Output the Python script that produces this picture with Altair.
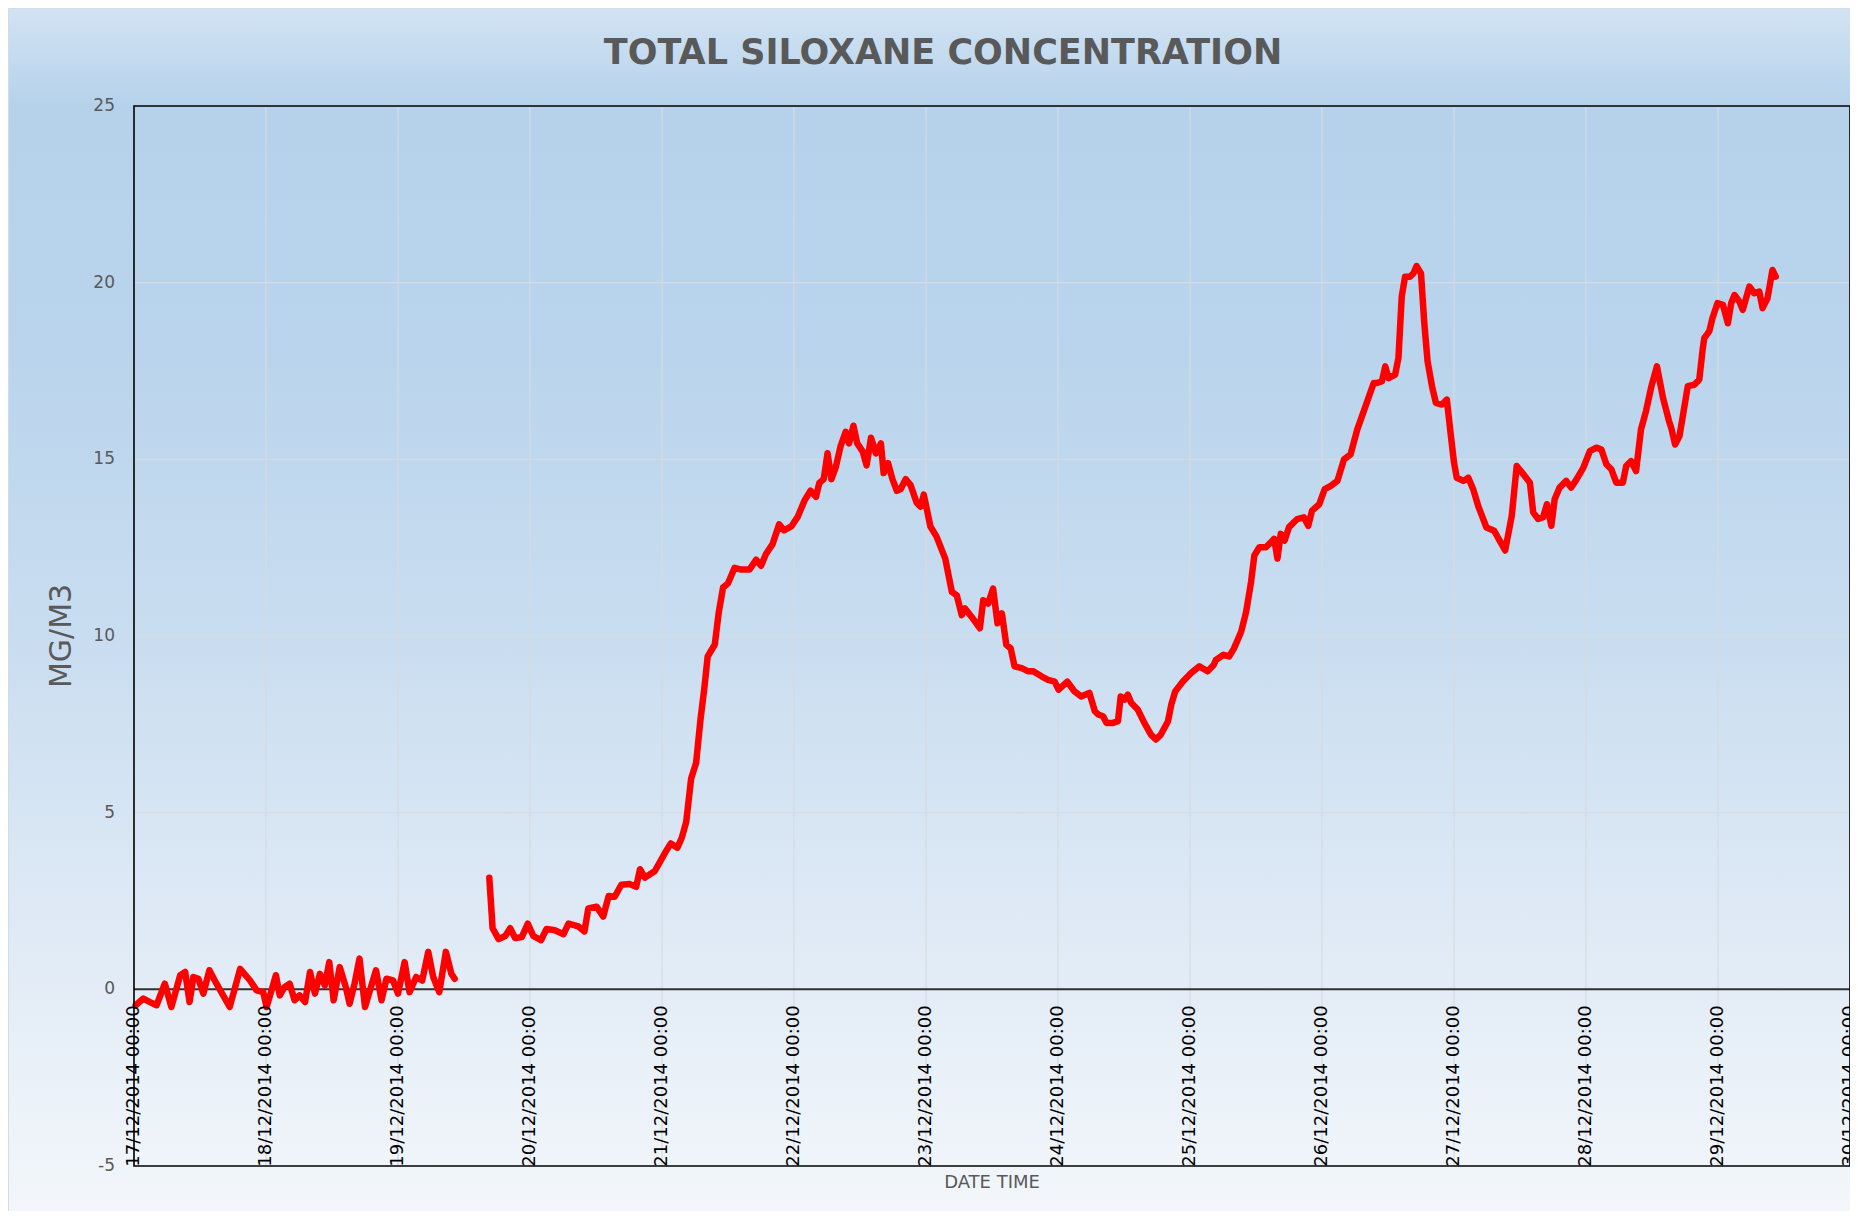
import altair as alt
import pandas as pd

# ---- data (hours since 17/12/2014 00:00, concentration mg/m3) ----
seg1_hours = [0.3, 1.7, 2.9, 4.1, 5.6, 6.8, 8.4, 9.3, 10.1, 10.8, 11.7, 12.6, 13.7, 15.0,
              17.4, 19.3, 21.1, 22.3, 23.5, 24.1, 25.0, 25.8, 26.5, 27.4, 28.3, 29.2, 30.1,
              31.1, 32.0, 32.9, 33.8, 34.7, 35.5, 36.3, 37.4, 38.5, 39.2, 40.1, 41.0, 42.0,
              42.9, 44.0, 45.0, 45.9, 47.1, 48.0, 49.2, 50.1, 51.3, 52.4, 53.5, 54.4, 55.5,
              56.7, 57.7, 58.3]
seg1_values = [-0.45, -0.26, -0.36, -0.45, 0.16, -0.50, 0.40, 0.49, -0.36, 0.35, 0.30, -0.12,
               0.54, 0.16, -0.50, 0.58, 0.25, -0.03, -0.08, -0.50, -0.03, 0.40, -0.17, 0.07,
               0.16, -0.31, -0.17, -0.36, 0.49, -0.12, 0.44, 0.11, 0.77, -0.31, 0.63, 0.07,
               -0.41, 0.16, 0.87, -0.50, -0.03, 0.54, -0.31, 0.30, 0.25, -0.12, 0.77, -0.08,
               0.35, 0.25, 1.06, 0.35, -0.08, 1.06, 0.44, 0.30]

seg2_hours = [64.6, 65.2, 66.3, 67.5, 68.4, 69.3, 70.5, 71.6, 72.6, 74.0, 75.0, 76.5, 78.1,
              79.0, 80.8, 81.9, 82.6, 84.1, 85.3, 86.3, 87.4, 88.6, 90.1, 91.3, 92.0, 92.9,
              94.7, 96.5, 97.6, 98.8, 99.6, 100.4, 101.3, 102.2, 103.0, 103.7, 104.3, 105.6,
              106.3, 107.1, 108.0, 109.2, 110.4, 111.9, 113.1, 114.0, 114.9, 116.1, 117.3,
              118.2, 119.5, 120.7, 121.9, 123.0, 124.0, 124.6, 125.4, 126.1, 126.8, 127.6,
              128.5, 129.4, 130.0, 130.8, 131.5, 132.5, 133.2, 134.0, 134.9, 135.8, 136.3,
              137.1, 137.9, 138.7, 139.4, 140.3, 141.2, 142.3, 143.0, 143.6, 144.8, 145.9,
              147.5, 148.7, 149.6, 150.5, 151.1, 152.3, 153.8, 154.4, 155.3, 156.2, 157.0,
              157.8, 158.6, 159.4, 160.1, 161.4, 162.6, 163.5, 165.0, 166.2, 167.4, 168.1,
              169.7, 171.0, 172.2, 173.7, 174.7, 175.3, 176.2, 176.8, 178.0, 178.9, 179.4,
              180.1, 180.7, 181.3, 182.5, 183.7, 184.9, 185.8, 186.7, 188.0, 188.6, 189.3,
              190.7, 192.2, 193.7, 195.2, 196.3, 196.7, 198.1, 199.1, 200.0, 201.3, 202.2,
              203.1, 203.7, 204.6, 205.8, 206.7, 207.3, 207.9, 208.5, 209.2, 210.0, 211.5,
              212.7, 213.5, 214.2, 215.5, 216.5, 217.6, 218.8, 220.0, 221.2, 222.4, 223.9,
              225.4, 226.0, 226.9, 227.5, 228.1, 229.3, 229.9, 230.5, 231.1, 232.0, 232.6,
              233.2, 234.0, 234.6, 235.2, 236.0, 236.7, 237.8, 238.7, 239.3, 240.0, 240.5,
              241.7, 242.6, 243.5, 244.4, 245.9, 247.3, 248.3, 249.3, 250.5, 251.4, 252.6,
              253.8, 254.4, 255.3, 256.2, 256.9, 257.7, 258.3, 259.2, 260.4, 261.3, 262.3,
              263.5, 264.7, 265.9, 266.8, 267.7, 268.6, 269.5, 270.7, 271.3, 272.2, 273.1,
              274.0, 274.9, 275.9, 276.9, 278.0, 279.1, 279.5, 280.2, 281.0, 281.9, 282.5,
              283.7, 284.6, 285.2, 285.5, 286.4, 287.0, 287.9, 288.9, 289.8, 290.4, 291.0,
              291.9, 292.5, 293.7, 294.6, 295.5, 296.1, 297.0, 297.9, 298.5]
seg2_values = [3.16, 1.73, 1.42, 1.51, 1.73, 1.45, 1.48, 1.86, 1.51, 1.39, 1.71, 1.67, 1.56,
               1.86, 1.78, 1.64, 2.29, 2.34, 2.06, 2.64, 2.62, 2.96, 2.98, 2.90, 3.40, 3.16,
               3.35, 3.85, 4.13, 4.01, 4.29, 4.74, 5.97, 6.41, 7.64, 8.53, 9.42, 9.76, 10.65,
               11.37, 11.49, 11.93, 11.88, 11.88, 12.16, 11.99, 12.32, 12.60, 13.16, 12.99,
               13.10, 13.38, 13.83, 14.11, 13.94, 14.33, 14.44, 15.17, 14.44, 14.78, 15.39,
               15.78, 15.45, 15.95, 15.45, 15.22, 14.83, 15.61, 15.17, 15.45, 14.61, 14.89,
               14.44, 14.11, 14.16, 14.44, 14.27, 13.77, 13.66, 14.00, 13.10, 12.82,
               12.19, 11.25, 11.15, 10.59, 10.78, 10.54, 10.22, 11.01, 10.92, 11.34, 10.36,
               10.64, 9.75, 9.65, 9.14, 9.09, 9.00, 9.00, 8.86, 8.76, 8.71, 8.48, 8.71, 8.43,
               8.29, 8.39, 7.87, 7.78, 7.73, 7.54, 7.54, 7.59, 8.29, 8.20, 8.34, 8.11, 7.92,
               7.54, 7.21, 7.07, 7.21, 7.59, 8.06, 8.43, 8.71, 8.95, 9.14, 9.00, 9.18, 9.32,
               9.47, 9.42, 9.65, 10.12, 10.68, 11.53, 12.28, 12.51, 12.51, 12.65, 12.75, 12.19,
               12.89, 12.70, 13.08, 13.31, 13.36, 13.12, 13.55, 13.73, 14.16, 14.25, 14.39,
               15.00, 15.14, 15.84, 16.50, 17.16, 17.16, 17.21, 17.63, 17.30, 17.40, 17.87,
               19.61, 20.17, 20.17, 20.26, 20.47, 20.26, 18.85, 17.77, 17.07, 16.60, 16.55,
               16.69, 15.85, 14.91, 14.48, 14.39, 14.48, 14.15, 13.68, 13.07, 12.98, 12.70,
               12.42, 13.40, 14.81, 14.58, 14.34, 13.50, 13.31, 13.36, 13.73, 13.12, 13.87,
               14.20, 14.39, 14.20, 14.44, 14.76, 15.23, 15.33, 15.28, 14.86, 14.72, 14.34,
               14.34, 14.81, 14.95, 14.67, 15.85, 16.36, 17.07, 17.63, 16.74, 16.08, 15.89,
               15.42, 15.66, 16.50, 17.07, 17.11, 17.26, 18.10, 18.43, 18.62, 19.00, 19.42,
               19.37, 18.85, 19.42, 19.65, 19.46, 19.23, 19.89, 19.70, 19.75, 19.28, 19.56,
               20.36, 20.17]

tick_days = list(range(17, 31))          # 17/12/2014 ... 30/12/2014
y_ticks = [-5, 0, 5, 10, 15, 20, 25]
y_tick_labels = ["-5", "0", "5", "10", "15", "20", "25"]
y_grid = [5, 10, 15, 20]

TITLE = "TOTAL SILOXANE CONCENTRATION"
X_TITLE = "DATE TIME"
Y_TITLE = "MG/M3"

# ---- tables ----
start = pd.Timestamp("2014-12-17 00:00:00")
rows = []
for seg, hrs, vals in (("a", seg1_hours, seg1_values), ("b", seg2_hours, seg2_values)):
    for h, v in zip(hrs, vals):
        rows.append({"time": start + pd.Timedelta(hours=h), "value": v, "seg": seg})
df = pd.DataFrame(rows)
days_df = pd.DataFrame({"day": [pd.Timestamp(2014, 12, d) for d in tick_days]})
yticks_df = pd.DataFrame({"v": y_ticks, "label": y_tick_labels})
hgrid_df = pd.DataFrame({"v": y_grid})
zero_df = pd.DataFrame({"v": [0]})
one = pd.DataFrame({"a": [0]})

W, H = 1716, 1060
PAD_L, PAD_T, PAD_R, PAD_B = 126, 98, 0, 45
ZERO_Y = H * 25 / 30

x_scale = alt.Scale(domain=[alt.DateTime(year=2014, month=12, date=17),
                            alt.DateTime(year=2014, month=12, date=30)], nice=False)
y_scale = alt.Scale(domain=[-5, 25], nice=False, zero=False)

grad = alt.LinearGradient(
    gradient="linear", x1=0, y1=0, x2=0, y2=1,
    stops=[alt.GradientStop(color="#d2e3f3", offset=0),
           alt.GradientStop(color="#b6d2eb", offset=0.08),
           alt.GradientStop(color="#b9d4ec", offset=0.28),
           alt.GradientStop(color="#c9ddf0", offset=0.52),
           alt.GradientStop(color="#e1ebf6", offset=0.78),
           alt.GradientStop(color="#f3f7fb", offset=1)])

bg = alt.Chart(one).mark_rect(fill=grad, stroke="#d3dbe3", strokeWidth=1).encode(
    x=alt.value(-PAD_L + 0.5), x2=alt.value(W + PAD_R + 6),
    y=alt.value(-PAD_T + 0.5), y2=alt.value(H + PAD_B + 6))

grid_color = "#d5dbe1"
vgrid = alt.Chart(days_df).mark_rule(color=grid_color, strokeWidth=1.2).encode(
    x=alt.X("day:T", scale=x_scale, axis=None))
hgrid = alt.Chart(hgrid_df).mark_rule(color=grid_color, strokeWidth=1.2).encode(
    y=alt.Y("v:Q", scale=y_scale, axis=None))
zero = alt.Chart(zero_df).mark_rule(color="#303030", strokeWidth=2).encode(
    y=alt.Y("v:Q", scale=y_scale, axis=None))

line = alt.Chart(df).mark_line(color="#ff0000", strokeWidth=6.5, strokeJoin="round",
                               strokeCap="round").encode(
    x=alt.X("time:T", scale=x_scale, axis=None),
    y=alt.Y("value:Q", scale=y_scale, axis=None),
    detail="seg:N")

border = alt.Chart(one).mark_rect(fill="transparent", stroke="#000000", strokeWidth=1.6).encode(
    x=alt.value(0), x2=alt.value(W), y=alt.value(0), y2=alt.value(H))

# axis labels drawn as text marks (placed through the same scales)
x_labels = alt.Chart(days_df).mark_text(
    angle=270, align="right", baseline="middle", font="DejaVu Sans", fontSize=18,
    color="#000000").encode(
    x=alt.X("day:T", scale=x_scale, axis=None),
    y=alt.value(ZERO_Y + 16),
    text=alt.Text("day:T", format="%d/%m/%Y %H:%M"))

y_labels = alt.Chart(yticks_df).mark_text(
    align="right", baseline="middle", font="DejaVu Sans", fontSize=17,
    color="#595959").encode(
    y=alt.Y("v:Q", scale=y_scale, axis=None),
    x=alt.value(-19),
    text=alt.Text("label:N"))

y_title = alt.Chart(one).mark_text(
    angle=270, align="center", baseline="middle", font="DejaVu Sans", fontSize=30,
    color="#595959").encode(x=alt.value(-72), y=alt.value(H / 2), text=alt.value(Y_TITLE))

x_title = alt.Chart(one).mark_text(
    align="center", baseline="middle", font="DejaVu Sans", fontSize=18,
    color="#595959").encode(x=alt.value(W / 2), y=alt.value(H + 17), text=alt.value(X_TITLE))

main_title = alt.Chart(one).mark_text(
    align="center", baseline="alphabetic", font="DejaVu Sans", fontSize=35,
    fontWeight="bold", color="#595959").encode(
    x=alt.value(W / 2 - 49), y=alt.value(-42), text=alt.value(TITLE))

chart = alt.layer(bg, vgrid, hgrid, zero, line, border,
                  x_labels, y_labels, y_title, x_title, main_title).properties(
    width=W, height=H,
    padding={"left": PAD_L, "top": PAD_T, "right": PAD_R, "bottom": PAD_B},
    autosize=alt.AutoSizeParams(type="none"),
).configure_view(strokeWidth=0).configure(background="white")

chart.save("out.html", embed_options={"renderer": "svg", "actions": False})
